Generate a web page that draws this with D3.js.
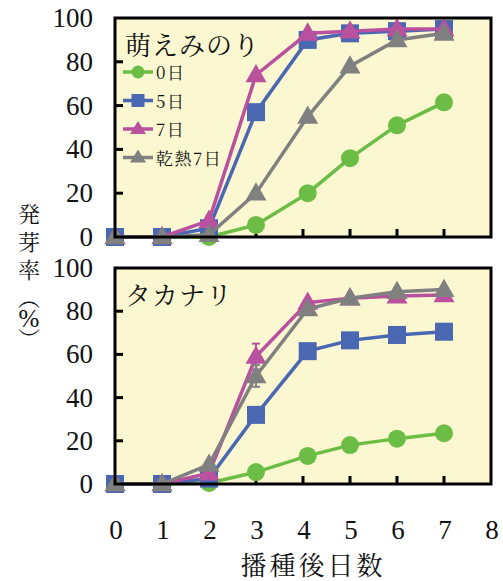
<!DOCTYPE html>
<html lang="en">
<head>
<meta charset="utf-8">
<script src="https://cdn.jsdelivr.net/npm/d3@7"></script>
</head>
<body style="margin:0">
<svg id="chart" width="503" height="581"></svg>
<script>
const WIDTH = 503;
const HEIGHT = 581;

// data
const days = [0, 1, 2, 3, 4.1, 5, 6, 7];
const seriesNames = ['0日', '5日', '7日', '乾熱7日'];
const seriesColors = ['#6cbd45', '#4a67b1', '#b9519f', '#808080'];
const seriesShapes = ['circle', 'square', 'triangle', 'triangle'];

const moeValues = [
    [0, 0, 0, 5.5, 20, 36, 51, 61.5],
    [0, 0, 4, 57, 90, 93, 94, 95],
    [0, 0, 7.5, 74, 93, 94, 95, 95],
    [0, 0, 1, 20, 55, 78, 90, 93],
];
const takaValues = [
    [0, 0, 0.5, 5.5, 13, 18, 21, 23.5],
    [0, 0, 2.5, 32, 61.5, 66.5, 69, 70.5],
    [0, 0, 5, 59, 84, 86, 87, 87.5],
    [0, 0, 9, 50, 81, 86, 89, 90],
];
// error bars (series index, day index, +-)
const takaErrors = [
    { s: 2, d: 3, e: 6 },
    { s: 3, d: 3, e: 5 },
];

const yTicks = [0, 20, 40, 60, 80, 100];
const xTicks = [0, 1, 2, 3, 4, 5, 6, 7, 8];

const PANEL_LEFT = 115;
const PANEL_RIGHT = 491;
const BG = '#fbf7d1';
const NUM_FONT = 'Liberation Serif';
const JP_FONT = 'Noto Serif CJK JP';

const svg = d3.select('#chart').attr('font-family', NUM_FONT);

const x = d3.scaleLinear().domain([0, 8]).range([PANEL_LEFT, PANEL_RIGHT]);

function drawMarker(g, shape, cx, cy, color) {
    if (shape === 'circle') {
        g.append('circle').attr('cx', cx).attr('cy', cy).attr('r', 9).attr('fill', color);
    } else if (shape === 'square') {
        g.append('rect').attr('x', cx - 9).attr('y', cy - 9)
            .attr('width', 18).attr('height', 18).attr('fill', color);
    } else {
        const s = 21;
        const h = s * 0.87;
        g.append('path')
            .attr('d', `M${cx},${cy - h * 0.6}L${cx + s / 2},${cy + h * 0.4}L${cx - s / 2},${cy + h * 0.4}Z`)
            .attr('fill', color);
    }
}

function drawPanel(top, bottom, values, errors, title, showLegend, showXLabels) {
    const y = d3.scaleLinear().domain([0, 100]).range([bottom, top]);
    const g = svg.append('g');

    g.append('rect')
        .attr('x', PANEL_LEFT).attr('y', top)
        .attr('width', PANEL_RIGHT - PANEL_LEFT).attr('height', bottom - top)
        .attr('fill', BG);

    // 세로축 척도
    yTicks.forEach(t => {
        g.append('text')
            .attr('x', 93).attr('y', y(t) + 9)
            .attr('font-size', 27)
            .attr('font-family', NUM_FONT)
            .attr('text-anchor', 'end')
            .attr('fill', '#111')
            .text(String(t));
        if (t > 0 && t < 100) {
            g.append('line')
                .attr('x1', PANEL_LEFT).attr('x2', PANEL_LEFT + 8)
                .attr('y1', y(t)).attr('y2', y(t))
                .attr('stroke', '#000').attr('stroke-width', 3);
        }
    });

    // 가로축 척도
    xTicks.forEach(t => {
        if (t > 0 && t < 8) {
            g.append('line')
                .attr('x1', x(t)).attr('x2', x(t))
                .attr('y1', bottom).attr('y2', bottom - 8)
                .attr('stroke', '#000').attr('stroke-width', 3);
        }
        if (showXLabels) {
            g.append('text')
                .attr('x', x(t) + 1).attr('y', bottom + 55)
                .attr('font-size', 27)
                .attr('font-family', NUM_FONT)
                .attr('text-anchor', 'middle')
                .attr('fill', '#111')
                .text(String(t));
        }
    });

    g.append('text')
        .attr('x', 125).attr('y', top + 37)
        .attr('font-size', 26)
        .attr('font-family', JP_FONT)
        .attr('letter-spacing', 1)
        .attr('fill', '#111')
        .text(title);

    const line = d3.line()
        .x((d, i) => x(days[i]))
        .y(d => y(d));

    values.forEach((vals, si) => {
        const sg = g.append('g');
        sg.append('path')
            .attr('d', line(vals))
            .attr('fill', 'none')
            .attr('stroke', seriesColors[si])
            .attr('stroke-width', 3.5);
        errors.filter(e => e.s === si).forEach(e => {
            const cx = x(days[e.d]);
            const v = vals[e.d];
            sg.append('line')
                .attr('x1', cx).attr('x2', cx)
                .attr('y1', y(v - e.e)).attr('y2', y(v + e.e))
                .attr('stroke', seriesColors[si]).attr('stroke-width', 2);
            [v - e.e, v + e.e].forEach(ev => {
                sg.append('line')
                    .attr('x1', cx - 4).attr('x2', cx + 4)
                    .attr('y1', y(ev)).attr('y2', y(ev))
                    .attr('stroke', seriesColors[si]).attr('stroke-width', 2);
            });
        });
        vals.forEach((v, i) => {
            drawMarker(sg, seriesShapes[si], x(days[i]), y(v), seriesColors[si]);
        });
    });

    if (showLegend) {
        seriesNames.forEach((name, si) => {
            const ly = top + 54 + si * 28.5;
            g.append('line')
                .attr('x1', 123).attr('x2', 153)
                .attr('y1', ly).attr('y2', ly)
                .attr('stroke', seriesColors[si]).attr('stroke-width', 3.5);
            const lg = g.append('g');
            if (seriesShapes[si] === 'circle') {
                lg.append('circle').attr('cx', 138).attr('cy', ly).attr('r', 6.5).attr('fill', seriesColors[si]);
            } else if (seriesShapes[si] === 'square') {
                lg.append('rect').attr('x', 131.5).attr('y', ly - 6.5).attr('width', 13).attr('height', 13).attr('fill', seriesColors[si]);
            } else {
                lg.append('path')
                    .attr('d', `M138,${ly - 8}L146,${ly + 5}L130,${ly + 5}Z`)
                    .attr('fill', seriesColors[si]);
            }
            g.append('text')
                .attr('x', 156).attr('y', ly + 7)
                .attr('font-size', 17)
                .attr('font-family', JP_FONT)
                .attr('letter-spacing', 1.5)
                .attr('fill', '#111')
                .text(name);
        });
    }

    // frame
    g.append('rect')
        .attr('x', PANEL_LEFT).attr('y', top)
        .attr('width', PANEL_RIGHT - PANEL_LEFT).attr('height', bottom - top)
        .attr('fill', 'none')
        .attr('stroke', '#000').attr('stroke-width', 3);
}

drawPanel(18, 237, moeValues, [], '萌えみのり', true, false);
drawPanel(268, 484, takaValues, takaErrors, 'タカナリ', false, true);

// y axis title (vertical)
const yLabel = svg.append('g')
    .attr('font-size', 22)
    .attr('fill', '#111').attr('text-anchor', 'middle');
['発', '芽', '率'].forEach((ch, i) => {
    yLabel.append('text').attr('font-family', JP_FONT).attr('x', 29).attr('y', 222 + i * 28).text(ch);
});
yLabel.append('text').attr('font-family', JP_FONT).attr('x', 29).attr('y', 306).text('︵');
yLabel.append('text').attr('font-family', NUM_FONT).attr('font-size', 25).attr('x', 29).attr('y', 327).text('%');
yLabel.append('text').attr('font-family', JP_FONT).attr('x', 29).attr('y', 347).text('︶');

// x axis title
svg.append('text')
    .attr('x', 313).attr('y', 575)
    .attr('font-size', 26)
    .attr('font-family', JP_FONT)
    .attr('text-anchor', 'middle')
    .attr('letter-spacing', 3)
    .attr('fill', '#111')
    .text('播種後日数');
</script>
</body>
</html>
